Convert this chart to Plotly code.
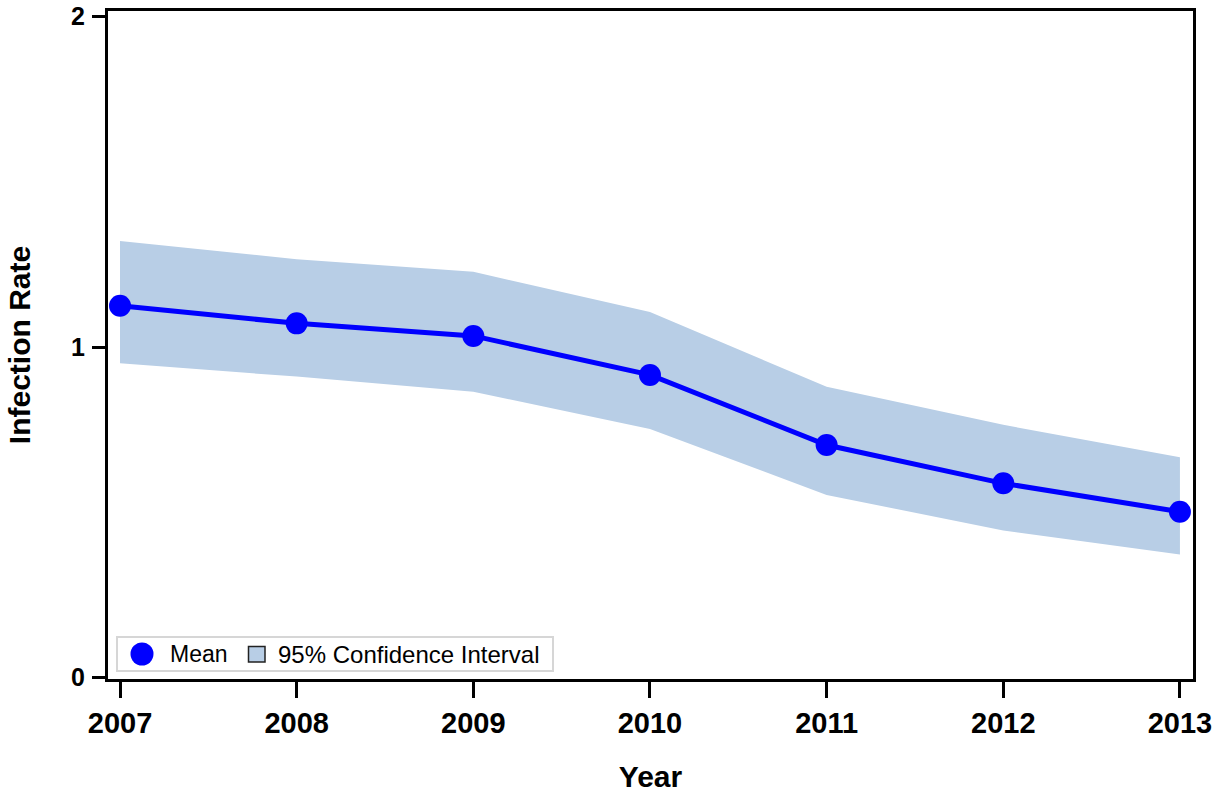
import plotly.graph_objects as go

# Annual infection rate with 95% confidence band
years = [2007, 2008, 2009, 2010, 2011, 2012, 2013]
mean_rate = [1.125, 1.072, 1.034, 0.916, 0.704, 0.588, 0.502]
upper_ci = [1.321, 1.266, 1.228, 1.106, 0.880, 0.765, 0.667]
lower_ci = [0.951, 0.911, 0.865, 0.752, 0.553, 0.445, 0.373]

y_ticks = [0, 1, 2]

MEAN_BLUE = "#0000FF"
BAND_FILL = "#B8CEE6"
FONT = "Liberation Sans"

fig = go.Figure()

# confidence band (lower edge, then upper edge filled down to it)
fig.add_trace(go.Scatter(
    x=years, y=lower_ci, mode="lines",
    line=dict(width=0, color=BAND_FILL),
    showlegend=False, hoverinfo="skip",
))
fig.add_trace(go.Scatter(
    x=years, y=upper_ci, mode="lines",
    line=dict(width=0, color=BAND_FILL),
    fill="tonexty", fillcolor=BAND_FILL,
    name="95% Confidence Interval", showlegend=False,
))

# mean line with markers
fig.add_trace(go.Scatter(
    x=years, y=mean_rate, mode="lines+markers",
    line=dict(color=MEAN_BLUE, width=5),
    marker=dict(color=MEAN_BLUE, size=22),
    name="Mean", showlegend=False, cliponaxis=False,
))

# plot-area geometry (pixels) used to place the inset legend
L, R, T, B = 108, 32, 11, 117
W, H = 1225, 796
pw, ph = W - L - R, H - T - B


def px(xp):
    return (xp - L) / pw


def py(yp):
    return (H - B - yp) / ph


shapes = [
    # legend frame
    dict(type="rect", xref="paper", yref="paper",
         x0=px(117), x1=px(553), y0=py(671), y1=py(637),
         line=dict(color="#D6D6D6", width=2), fillcolor="white", layer="above"),
    # mean symbol
    dict(type="circle", xref="paper", yref="paper",
         x0=px(130.5), x1=px(153.5), y0=py(665.5), y1=py(642.5),
         line=dict(width=0), fillcolor=MEAN_BLUE, layer="above"),
    # band symbol
    dict(type="rect", xref="paper", yref="paper",
         x0=px(248.5), x1=px(265), y0=py(662), y1=py(646.5),
         line=dict(color="#222222", width=1.5), fillcolor=BAND_FILL, layer="above"),
]

annotations = [
    dict(text="Mean", xref="paper", yref="paper", x=px(168), y=py(654),
         xanchor="left", yanchor="middle", showarrow=False,
         font=dict(family=FONT, size=23, color="black")),
    dict(text="95% Confidence Interval", xref="paper", yref="paper",
         x=px(276), y=py(654), xanchor="left", yanchor="middle", showarrow=False,
         font=dict(family=FONT, size=24, color="black")),
]

fig.update_layout(
    width=W, height=H,
    margin=dict(l=L, r=R, t=T, b=B, pad=0, autoexpand=False),
    plot_bgcolor="white", paper_bgcolor="white",
    font=dict(family=FONT, color="black"),
    showlegend=False,
    shapes=shapes,
    annotations=annotations,
)

fig.update_xaxes(
    automargin=False,
    range=[2006.932, 2013.074],
    tickvals=years, ticktext=[str(y) for y in years],
    ticks="outside", ticklen=16, tickwidth=3, tickcolor="black",
    ticklabelstandoff=0,
    tickfont=dict(family=FONT, size=29, color="black", weight="bold"),
    showline=True, linecolor="black", linewidth=3, mirror=True,
    showgrid=False, zeroline=False,
    title=dict(text="Year", standoff=29,
               font=dict(family=FONT, size=30, color="black", weight="bold")),
)

fig.update_yaxes(
    automargin=False,
    range=[-0.004, 2.017],
    tickvals=y_ticks,
    ticks="outside", ticklen=13, tickwidth=3, tickcolor="black",
    ticklabelstandoff=2,
    tickfont=dict(family=FONT, size=25, color="black", weight="bold"),
    showline=True, linecolor="black", linewidth=3, mirror=True,
    showgrid=False, zeroline=False,
    title=dict(text="Infection Rate", standoff=32,
               font=dict(family=FONT, size=30, color="black", weight="bold")),
)

fig.write_html("out.html")
